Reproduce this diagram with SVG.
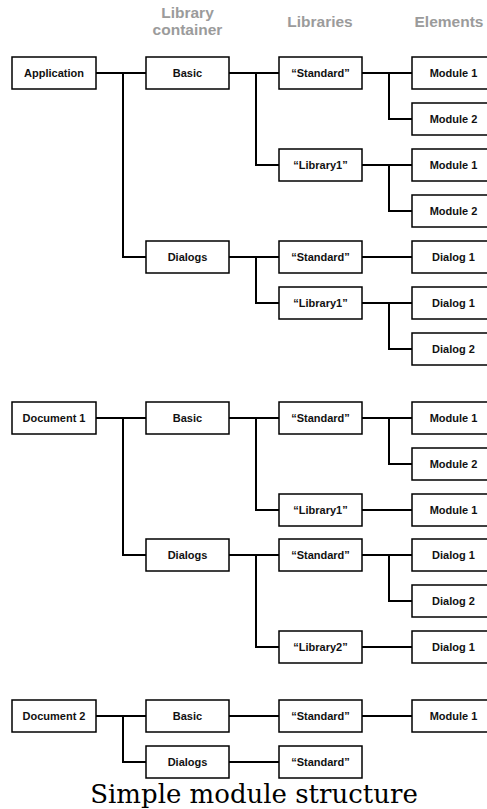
<svg xmlns="http://www.w3.org/2000/svg" width="487" height="809" viewBox="0 0 487 809">
<style>
.box rect{fill:#fff;stroke:#000;stroke-width:1.5}
.box text{font-family:"Liberation Sans",Arial,sans-serif;font-weight:bold;font-size:11px;text-anchor:middle;fill:#111}
.hdr{font-family:"Liberation Sans",Arial,sans-serif;font-weight:bold;font-size:15.5px;text-anchor:middle;fill:#9b9b9b}
#connectors path{fill:none;stroke:#000;stroke-width:2}
.cap{font-family:"DejaVu Serif",serif;font-size:26px;text-anchor:middle;fill:#000}
</style>
<rect width="487" height="809" fill="#fff"/>
<g id="headers">
<text class="hdr" x="187.5" y="17.5">Library</text>
<text class="hdr" x="187.5" y="35">container</text>
<text class="hdr" x="320" y="27">Libraries</text>
<text class="hdr" x="449" y="27">Elements</text>
</g>
<g id="connectors">
<path d="M96 73H146M123 73V257H146"/>
<path d="M229 73H279M256 73V165H279"/>
<path d="M362 73H412M389 73V119H412"/>
<path d="M362 165H412M389 165V211H412"/>
<path d="M229 257H279M256 257V303H279"/>
<path d="M362 257H412"/>
<path d="M362 303H412M389 303V349H412"/>
<path d="M96 418H146M123 418V555H146"/>
<path d="M229 418H279M256 418V510H279"/>
<path d="M362 418H412M389 418V464H412"/>
<path d="M362 510H412"/>
<path d="M229 555H279M256 555V647H279"/>
<path d="M362 555H412M389 555V601H412"/>
<path d="M362 647H412"/>
<path d="M96 716H146M123 716V762H146"/>
<path d="M229 716H279"/>
<path d="M362 716H412"/>
<path d="M229 762H279"/>
</g>
<g id="application" class="box"><rect x="12" y="57" width="84" height="32"/><text x="54" y="77">Application</text></g>
<g id="app-basic" class="box"><rect x="146" y="57" width="83" height="32"/><text x="187.5" y="77">Basic</text></g>
<g id="app-basic-standard" class="box"><rect x="279" y="57" width="83" height="32"/><text x="320.5" y="77">“Standard”</text></g>
<g id="app-basic-standard-module1" class="box"><rect x="412" y="57" width="83" height="32"/><text x="453.5" y="77">Module 1</text></g>
<g id="app-basic-standard-module2" class="box"><rect x="412" y="103" width="83" height="32"/><text x="453.5" y="123">Module 2</text></g>
<g id="app-basic-library1" class="box"><rect x="279" y="149" width="83" height="32"/><text x="320.5" y="169">“Library1”</text></g>
<g id="app-basic-library1-module1" class="box"><rect x="412" y="149" width="83" height="32"/><text x="453.5" y="169">Module 1</text></g>
<g id="app-basic-library1-module2" class="box"><rect x="412" y="195" width="83" height="32"/><text x="453.5" y="215">Module 2</text></g>
<g id="app-dialogs" class="box"><rect x="146" y="241" width="83" height="32"/><text x="187.5" y="261">Dialogs</text></g>
<g id="app-dialogs-standard" class="box"><rect x="279" y="241" width="83" height="32"/><text x="320.5" y="261">“Standard”</text></g>
<g id="app-dialogs-standard-dialog1" class="box"><rect x="412" y="241" width="83" height="32"/><text x="453.5" y="261">Dialog 1</text></g>
<g id="app-dialogs-library1" class="box"><rect x="279" y="287" width="83" height="32"/><text x="320.5" y="307">“Library1”</text></g>
<g id="app-dialogs-library1-dialog1" class="box"><rect x="412" y="287" width="83" height="32"/><text x="453.5" y="307">Dialog 1</text></g>
<g id="app-dialogs-library1-dialog2" class="box"><rect x="412" y="333" width="83" height="32"/><text x="453.5" y="353">Dialog 2</text></g>
<g id="document1" class="box"><rect x="12" y="402" width="84" height="32"/><text x="54" y="422">Document 1</text></g>
<g id="doc1-basic" class="box"><rect x="146" y="402" width="83" height="32"/><text x="187.5" y="422">Basic</text></g>
<g id="doc1-basic-standard" class="box"><rect x="279" y="402" width="83" height="32"/><text x="320.5" y="422">“Standard”</text></g>
<g id="doc1-basic-standard-module1" class="box"><rect x="412" y="402" width="83" height="32"/><text x="453.5" y="422">Module 1</text></g>
<g id="doc1-basic-standard-module2" class="box"><rect x="412" y="448" width="83" height="32"/><text x="453.5" y="468">Module 2</text></g>
<g id="doc1-basic-library1" class="box"><rect x="279" y="494" width="83" height="32"/><text x="320.5" y="514">“Library1”</text></g>
<g id="doc1-basic-library1-module1" class="box"><rect x="412" y="494" width="83" height="32"/><text x="453.5" y="514">Module 1</text></g>
<g id="doc1-dialogs" class="box"><rect x="146" y="539" width="83" height="32"/><text x="187.5" y="559">Dialogs</text></g>
<g id="doc1-dialogs-standard" class="box"><rect x="279" y="539" width="83" height="32"/><text x="320.5" y="559">“Standard”</text></g>
<g id="doc1-dialogs-standard-dialog1" class="box"><rect x="412" y="539" width="83" height="32"/><text x="453.5" y="559">Dialog 1</text></g>
<g id="doc1-dialogs-standard-dialog2" class="box"><rect x="412" y="585" width="83" height="32"/><text x="453.5" y="605">Dialog 2</text></g>
<g id="doc1-dialogs-library2" class="box"><rect x="279" y="631" width="83" height="32"/><text x="320.5" y="651">“Library2”</text></g>
<g id="doc1-dialogs-library2-dialog1" class="box"><rect x="412" y="631" width="83" height="32"/><text x="453.5" y="651">Dialog 1</text></g>
<g id="document2" class="box"><rect x="12" y="700" width="84" height="32"/><text x="54" y="720">Document 2</text></g>
<g id="doc2-basic" class="box"><rect x="146" y="700" width="83" height="32"/><text x="187.5" y="720">Basic</text></g>
<g id="doc2-basic-standard" class="box"><rect x="279" y="700" width="83" height="32"/><text x="320.5" y="720">“Standard”</text></g>
<g id="doc2-basic-standard-module1" class="box"><rect x="412" y="700" width="83" height="32"/><text x="453.5" y="720">Module 1</text></g>
<g id="doc2-dialogs" class="box"><rect x="146" y="746" width="83" height="32"/><text x="187.5" y="766">Dialogs</text></g>
<g id="doc2-dialogs-standard" class="box"><rect x="279" y="746" width="83" height="32"/><text x="320.5" y="766">“Standard”</text></g>
<text class="cap" x="254" y="803">Simple module structure</text>
</svg>
